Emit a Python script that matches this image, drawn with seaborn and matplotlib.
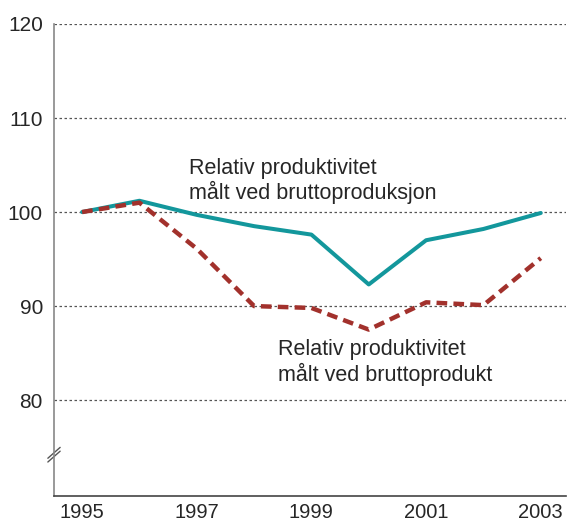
import matplotlib
matplotlib.use("Agg")
import matplotlib.pyplot as plt
import numpy as np
import pandas as pd
import seaborn as sns

# data
years = [1995, 1996, 1997, 1998, 1999, 2000, 2001, 2002, 2003]
brutto_produksjon = [100.0, 101.2, 99.7, 98.5, 97.6, 92.3, 97.0, 98.2, 99.9]
brutto_produkt = [100.0, 101.0, 96.1, 90.0, 89.8, 87.5, 90.4, 90.1, 95.1]
y_ticks = [80, 90, 100, 110, 120]
x_labels = ["1995", "", "1997", "", "1999", "", "2001", "", "2003"]

teal = "#13979c"
red = "#a2312c"

sns.set_style("white")
plt.rcParams['font.family'] = ['Liberation Sans', 'DejaVu Sans']

df = pd.DataFrame({"year": years,
                   "produksjon": brutto_produksjon,
                   "produkt": brutto_produkt})

fig = plt.figure(figsize=(5.69, 5.23), dpi=100)
ax = fig.add_axes([54 / 569, 1 - 496 / 523, (566 - 54) / 569, (496 - 24) / 523])

for y in y_ticks:
    ax.axhline(y, color="#555555", lw=0.9, ls=(0, (2, 2)), zorder=0)

sns.lineplot(data=df, x="year", y="produksjon", ax=ax, color=teal, lw=2.9)
sns.lineplot(data=df, x="year", y="produkt", ax=ax, color=red, lw=3.2,
             dashes=False)
ax.lines[-1].set_dashes([2.4, 1.4])

ax.set_xlim(1994.51, 2003.44)
ax.set_ylim(69.8, 120)
ax.set_xticks(years)
ax.set_xticklabels(x_labels)
ax.set_yticks(y_ticks)
ax.set_xlabel("")
ax.set_ylabel("")
ax.tick_params(axis="x", direction="in", length=9, width=1, color="#777777",
               labelsize=14.5, pad=5)
ax.tick_params(axis="y", length=0, labelsize=15, pad=8)

for side in ["top", "right"]:
    ax.spines[side].set_visible(False)
ax.spines["left"].set_color("#888888")
ax.spines["left"].set_linewidth(1.2)
ax.spines["bottom"].set_color("#444444")
ax.spines["bottom"].set_linewidth(1.2)

# axis break marks
for dy in (0.0, 0.008):
    ax.plot([-0.012, 0.012], [0.072 + dy, 0.095 + dy], transform=ax.transAxes,
            color="#555555", lw=1, clip_on=False)

ax.text(1996.86, 103.3, "Relativ produktivitet\nmålt ved bruttoproduksjon",
        fontsize=15.5, va="center", ha="left", linespacing=1.15)
ax.text(1998.41, 84.0, "Relativ produktivitet\nmålt ved bruttoprodukt",
        fontsize=15.5, va="center", ha="left", linespacing=1.15)

fig.savefig("out.png", dpi=100)
